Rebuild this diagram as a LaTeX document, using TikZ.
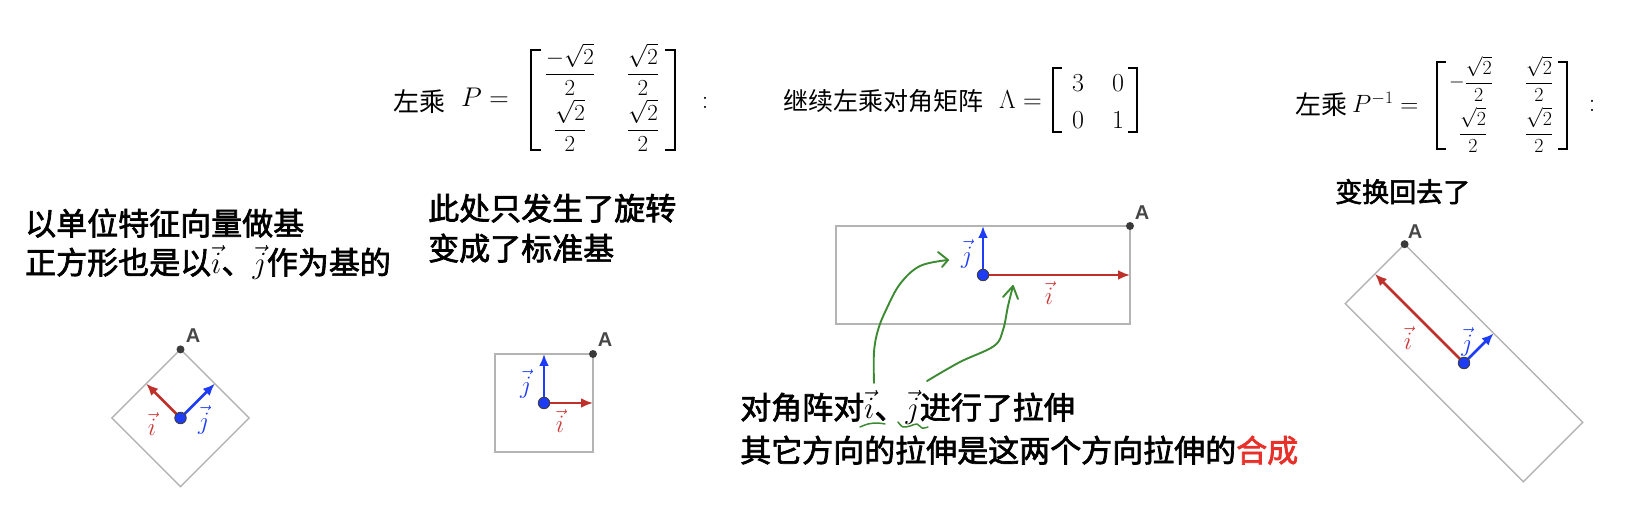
\documentclass[tikz,border=0pt]{standalone}
\usepackage{fix-cm}
\usepackage{amsmath}
\usepackage{fontspec}
\newfontfamily\cjk{Noto Sans CJK SC}
\newfontfamily\cjkm{Noto Sans CJK SC}[FakeBold=2.2]
\newfontfamily\gsans{Liberation Sans}
\usetikzlibrary{arrows.meta}
\definecolor{boxgray}{HTML}{B4B4B4}
\definecolor{ired}{HTML}{C0302A}
\definecolor{iredlab}{HTML}{CC3A3A}
\definecolor{jblue}{HTML}{1E3CF5}
\definecolor{hired}{HTML}{E8302A}
\definecolor{sgreen}{HTML}{3C8A32}
\definecolor{apoint}{HTML}{3A3A3A}
\definecolor{alabc}{HTML}{474747}
\tikzset{
  boxln/.style={draw=boxgray, line width=1.4pt},
  ivec/.style={draw=ired, line width=2.6pt, -{Latex[length=12pt,width=10pt]}},
  jvec/.style={draw=jblue, line width=2.6pt, -{Latex[length=12pt,width=10pt]}},
  odot/.style={circle, fill=jblue, draw=black!75, line width=0.9pt, minimum size=11.5pt, inner sep=0pt},
  apt/.style={circle, fill=apoint, minimum size=8pt, inner sep=0pt},
  alab/.style={font=\gsans\bfseries\fontsize{20}{24}\selectfont, text=alabc, inner sep=0pt},
  ilab/.style={text=iredlab, font=\fontsize{25}{28}\selectfont, inner sep=0pt},
  jlab/.style={text=jblue, font=\fontsize{25}{28}\selectfont, inner sep=0pt},
  cjkbig/.style={font=\cjkm\fontsize{31}{36}\selectfont, anchor=base west, inner sep=0pt},
  cjkhead/.style={font=\cjk\fontsize{26}{30}\selectfont, anchor=base west, inner sep=0pt},
  mathhead/.style={font=\fontsize{27}{32}\selectfont, inner sep=0pt},
  entry/.style={font=\fontsize{23}{28}\selectfont, inner sep=0pt, anchor=base},
  entrys/.style={font=\fontsize{20}{24}\selectfont, inner sep=0pt, anchor=base},
  colon/.style={font=\fontsize{26}{30}\selectfont, inner sep=0pt},
  brk/.style={draw=black, line width=1.9pt},
  scribble/.style={draw=sgreen, line width=1.9pt, line cap=round, line join=round},
}
\begin{document}
\begin{tikzpicture}[x=1pt,y=-1pt]
\useasboundingbox (0,0) rectangle (1628,510);

% ---------------- headers ----------------
\node[cjkhead] (h1) at (393,112) {左乘};
\node[mathhead, anchor=base west] (h1m) at (461,107) {$P=$};
\draw[brk] (541,50) -- (531,50) -- (531,150) -- (541,150);
\draw[brk] (665,50) -- (675,50) -- (675,150) -- (665,150);
\node[entry] (p11) at (570,80) {$\dfrac{-\sqrt{2}}{2}$};
\node[entry] (p12) at (643,80) {$\dfrac{\sqrt{2}}{2}$};
\node[entry] (p21) at (570,136) {$\dfrac{\sqrt{2}}{2}$};
\node[entry] (p22) at (643,136) {$\dfrac{\sqrt{2}}{2}$};
\node[colon] (c1) at (705,103) {:};

\node[cjkhead, font=\cjk\fontsize{25}{30}\selectfont] (h2) at (783,111) {继续左乘对角矩阵};
\node[mathhead, font=\fontsize{26}{30}\selectfont, anchor=base west] (h2m) at (999,109) {$\Lambda=$};
\draw[brk] (1062,68) -- (1053,68) -- (1053,132) -- (1062,132);
\draw[brk] (1128,68) -- (1137,68) -- (1137,132) -- (1128,132);
\node[entry, font=\fontsize{26}{30}\selectfont] (l11) at (1078,91.5) {$3$};
\node[entry, font=\fontsize{26}{30}\selectfont] (l12) at (1118,91.5) {$0$};
\node[entry, font=\fontsize{26}{30}\selectfont] (l21) at (1078,128.5) {$0$};
\node[entry, font=\fontsize{26}{30}\selectfont] (l22) at (1118,128.5) {$1$};

\node[cjkhead] (h3) at (1295,115) {左乘};
\node[mathhead, font=\fontsize{25}{30}\selectfont, anchor=base west] (h3m) at (1352,113) {$P^{-1}=$};
\draw[brk] (1446,62) -- (1437,62) -- (1437,149) -- (1446,149);
\draw[brk] (1558,62) -- (1567,62) -- (1567,149) -- (1558,149);
\node[entrys] (q11) at (1471,88) {$-\dfrac{\sqrt{2}}{2}$};
\node[entrys] (q12) at (1539,88) {$\dfrac{\sqrt{2}}{2}$};
\node[entrys] (q21) at (1473,139) {$\dfrac{\sqrt{2}}{2}$};
\node[entrys] (q22) at (1539,139) {$\dfrac{\sqrt{2}}{2}$};
\node[colon] (c3) at (1592,106) {:};
\node[cjkbig, font=\cjkm\fontsize{27}{32}\selectfont] (h3b) at (1335,202) {变换回去了};

% ---------------- panel texts ----------------
\node[cjkbig] (t1a) at (25,235) {以单位特征向量做基};
\node[cjkbig] (t1b) at (25,274) {正方形也是以$\vec{i}$、$\vec{j}$作为基的};
\node[cjkbig] (t2a) at (428,220) {此处只发生了旋转};
\node[cjkbig] (t2b) at (428,260) {变成了标准基};
\node[cjkbig] (t3a) at (740,419) {对角阵对$\vec{i}$、$\vec{j}$进行了拉伸};
\node[cjkbig] (t3b) at (740,462) {其它方向的拉伸是这两个方向拉伸的\textcolor{hired}{合成}};

% ---------------- panel 1 ----------------
\coordinate (o1) at (180.5,418);
\coordinate (A1) at (180.5,349.4);
\coordinate (L1) at (111.9,418);
\coordinate (B1) at (180.5,486.6);
\coordinate (R1) at (249.1,418);
\coordinate (i1) at (146.2,383.7);
\coordinate (j1) at (214.8,383.7);
\draw[boxln] (A1) -- (R1) -- (B1) -- (L1) -- cycle;
\draw[ivec] (o1) -- (i1);
\draw[jvec] (o1) -- (j1);
\node[odot] (od1) at (o1) {};
\node[apt] (ap1) at (A1) {};
\node[alab] (al1) at (193,336) {A};
\node[ilab] (il1) at (152,424) {$\vec{i}$};
\node[jlab] (jl1) at (204,420) {$\vec{j}$};

% ---------------- panel 2 ----------------
\coordinate (o2) at (544,403);
\coordinate (A2) at (593,354);
\coordinate (L2) at (495,354);
\coordinate (B2) at (495,452);
\coordinate (R2) at (593,452);
\coordinate (i2) at (593,403);
\coordinate (j2) at (544,354);
\draw[boxln] (L2) -- (A2) -- (R2) -- (B2) -- cycle;
\draw[ivec] (o2) -- (i2);
\draw[jvec] (o2) -- (j2);
\node[odot] (od2) at (o2) {};
\node[apt] (ap2) at (A2) {};
\node[alab] (al2) at (605,340) {A};
\node[jlab] (jl2) at (526,384) {$\vec{j}$};
\node[ilab] (il2) at (560,421) {$\vec{i}$};

% ---------------- panel 3 ----------------
\coordinate (o3) at (983,275);
\coordinate (A3) at (1130,226);
\coordinate (L3) at (836,226);
\coordinate (B3) at (836,324);
\coordinate (R3) at (1130,324);
\coordinate (i3) at (1130,275);
\coordinate (j3) at (983,226);
\draw[boxln] (L3) -- (A3) -- (R3) -- (B3) -- cycle;
\draw[ivec] (o3) -- (i3);
\draw[jvec] (o3) -- (j3);
\node[odot] (od3) at (o3) {};
\node[apt] (ap3) at (A3) {};
\node[alab] (al3) at (1142,213) {A};
\node[jlab] (jl3) at (967,254) {$\vec{j}$};
\node[ilab] (il3) at (1049,293) {$\vec{i}$};

% green scribbles
\coordinate (g1s) at (874,383);
\coordinate (g1e) at (948,260);
\coordinate (g2s) at (927,381);
\coordinate (g2e) at (1013,286);
\draw[scribble] plot[smooth, tension=0.6] coordinates {(g1s) (874,352) (878,330) (886,310) (900,284) (920,266) (g1e)};
\draw[scribble] (938,252) -- (g1e) -- (942,267);
\draw[scribble] plot[smooth, tension=0.6] coordinates {(g2s) (960,362) (994,346) (1003,330) (1008,306) (g2e)};
\draw[scribble] (1003,297) -- (g2e) -- (1018,299);
\draw[scribble, line width=1.5pt] plot[smooth, tension=0.6] coordinates {(860,427) (868,424) (877,423) (885,424)};
\draw[scribble, line width=1.5pt] plot[smooth, tension=0.6] coordinates {(898,422) (903,427) (910,426) (917,424) (922,428) (928,427)};

% ---------------- panel 4 ----------------
\coordinate (o4) at (1464,363);
\coordinate (A4) at (1404.6,244.2);
\coordinate (L4) at (1345.2,303.6);
\coordinate (B4) at (1523.4,481.8);
\coordinate (R4) at (1582.8,422.4);
\coordinate (i4) at (1374.9,273.9);
\coordinate (j4) at (1493.7,333.3);
\draw[boxln] (A4) -- (R4) -- (B4) -- (L4) -- cycle;
\draw[ivec] (o4) -- (i4);
\draw[jvec] (o4) -- (j4);
\node[odot] (od4) at (o4) {};
\node[apt] (ap4) at (A4) {};
\node[alab] (al4) at (1415,232) {A};
\node[ilab] (il4) at (1408,338) {$\vec{i}$};
\node[jlab] (jl4) at (1467,342) {$\vec{j}$};
\end{tikzpicture}
\end{document}
